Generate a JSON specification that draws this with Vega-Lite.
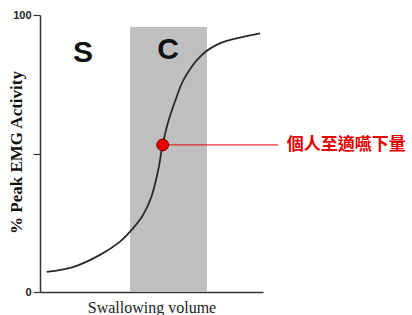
{
  "$schema": "https://vega.github.io/schema/vega-lite/v6.json",
  "width": 223,
  "height": 277,
  "autosize": {"type": "none"},
  "padding": {"left": 40, "top": 15, "right": 149, "bottom": 23},
  "background": "white",
  "config": {"view": {"stroke": null}},
  "datasets": {
    "zone": [{"x": 40.4, "x2": 74.9, "y": 0, "y2": 95.7}],
    "curve": [
      {"x": 3.0, "y": 7.3},
      {"x": 14.8, "y": 9.0},
      {"x": 26.9, "y": 13.4},
      {"x": 35.9, "y": 18.2},
      {"x": 41.1, "y": 22.4},
      {"x": 46.0, "y": 27.5},
      {"x": 50.0, "y": 34.5},
      {"x": 53.0, "y": 44.0},
      {"x": 55.0, "y": 53.1},
      {"x": 57.5, "y": 61.5},
      {"x": 61.3, "y": 70.5},
      {"x": 64.3, "y": 76.5},
      {"x": 71.7, "y": 84.9},
      {"x": 79.2, "y": 89.2},
      {"x": 88.2, "y": 91.6},
      {"x": 98.7, "y": 93.4}
    ],
    "leader": [{"x": 55.0, "x2": 106.7, "y": 53.1}],
    "marker": [{"x": 55.0, "y": 53.1}],
    "zones": [{"x": 19.3, "y": 86.3, "label": "S"}, {"x": 57.4, "y": 87.2, "label": "C"}],
    "note": [{"x": 110.6, "y": 53.1, "label": "個人至適嚥下量"}]
  },
  "encoding": {
    "x": {
      "field": "x", "type": "quantitative",
      "scale": {"domain": [0, 100], "nice": false, "zero": false},
      "axis": {
        "labels": false, "ticks": false, "grid": false,
        "domainColor": "#333", "domainWidth": 1.5,
        "title": "Swallowing volume", "titleFont": "Liberation Serif",
        "titleFontSize": 16, "titleFontWeight": "normal", "titleColor": "#222",
        "titlePadding": 7
      }
    },
    "y": {
      "field": "y", "type": "quantitative",
      "scale": {"domain": [0, 100], "nice": false, "zero": false},
      "axis": {
        "values": [0, 50, 100],
        "labelExpr": "datum.value == 50 ? '' : datum.label",
        "labelFont": "Liberation Sans", "labelFontWeight": "bold", "labelFontSize": 11,
        "labelColor": "#222", "labelPadding": 2, "labelFlush": false,
        "tickSize": 7, "tickColor": "#333", "tickWidth": 1.2,
        "domainColor": "#333", "domainWidth": 1.5, "grid": false,
        "title": "% Peak EMG Activity", "titleFont": "Liberation Serif",
        "titleFontSize": 17, "titleFontWeight": "bold", "titleColor": "#111",
        "titleX": -15, "titleY": 137
      }
    }
  },
  "layer": [
    {
      "data": {"name": "zone"},
      "mark": {"type": "rect", "color": "#bfbfbf"},
      "encoding": {"x2": {"field": "x2"}, "y2": {"field": "y2"}}
    },
    {
      "data": {"name": "curve"},
      "mark": {"type": "line", "interpolate": "catmull-rom", "color": "#2a2a2a", "strokeWidth": 1.8}
    },
    {
      "data": {"name": "leader"},
      "mark": {"type": "rule", "color": "#e60000", "strokeWidth": 1},
      "encoding": {"x2": {"field": "x2"}}
    },
    {
      "data": {"name": "marker"},
      "mark": {"type": "point", "shape": "circle", "filled": true, "size": 140, "fill": "#e60000", "stroke": "#7a0000", "strokeWidth": 1, "opacity": 1}
    },
    {
      "data": {"name": "zones"},
      "mark": {"type": "text", "font": "Liberation Sans", "fontWeight": "bold", "fontSize": 30, "color": "#111", "align": "center", "baseline": "middle"},
      "encoding": {"text": {"field": "label"}}
    },
    {
      "data": {"name": "note"},
      "mark": {"type": "text", "font": "Noto Sans CJK TC", "fontWeight": "bold", "fontSize": 17, "color": "#e60000", "align": "left", "baseline": "middle"},
      "encoding": {"text": {"field": "label"}}
    }
  ]
}
